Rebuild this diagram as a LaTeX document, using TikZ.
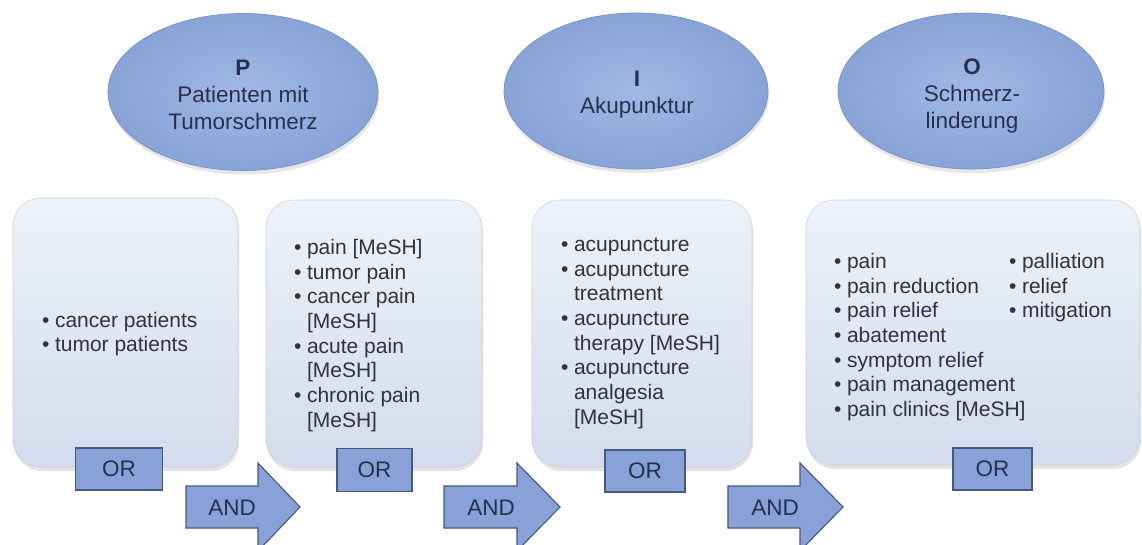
\documentclass[tikz,border=0pt]{standalone}
\usepackage{fontspec}
\setmainfont{Liberation Sans}
\usetikzlibrary{shapes.geometric,shadows}
\definecolor{ellin}{RGB}{162,184,229}
\definecolor{ellout}{RGB}{136,163,214}
\definecolor{elledge}{RGB}{120,145,198}
\definecolor{boxtop}{RGB}{238,242,249}
\definecolor{boxbot}{RGB}{211,220,236}
\definecolor{boxedge}{RGB}{200,208,222}
\definecolor{opfill}{RGB}{136,161,214}
\definecolor{opedge}{RGB}{70,88,128}
\definecolor{txtgray}{RGB}{50,50,62}
\definecolor{txtnavy}{RGB}{38,48,78}
\begin{document}
\begin{tikzpicture}[x=1pt,y=-1pt,
  pbox/.style={rectangle, rounded corners=28pt, top color=boxtop, bottom color=boxbot,
    draw=boxedge, line width=0.6pt, inner sep=0pt,
    drop shadow={opacity=0.22, shadow xshift=1pt, shadow yshift=-4pt}},
  ell/.style={ellipse, inner color=ellin, outer color=ellout, draw=elledge,
    line width=0.7pt, inner sep=0pt,
    drop shadow={opacity=0.2, shadow xshift=1pt, shadow yshift=-4pt}},
  elltext/.style={align=center, text=txtnavy, inner sep=0pt,
    font=\fontsize{22.5}{27}\selectfont},
  listtext/.style={anchor=west, inner sep=0pt, text=txtgray,
    font=\fontsize{21}{24.7}\selectfont},
  opbox/.style={rectangle, fill=opfill, draw=opedge, line width=1.1pt, inner sep=0pt,
    text=txtnavy, font=\fontsize{22.5}{27}\selectfont},
  andarrow/.style={fill=opfill, draw=opedge, line width=1.1pt},
  optext/.style={inner sep=0pt, text=txtnavy, font=\fontsize{22.5}{27}\selectfont}
]
\useasboundingbox (0,0) rectangle (1142,544);
\clip (0,0) rectangle (1142,544);

% ellipses
\node[ell, minimum width=270pt, minimum height=157pt] (P) at (243,92) {};
\node[ell, minimum width=264pt, minimum height=156pt] (I) at (636,91) {};
\node[ell, minimum width=266pt, minimum height=156pt] (O) at (971,91) {};
\node[elltext] (Pt) at (243,95) {\textbf{P}\\Patienten mit\\Tumorschmerz};
\node[elltext] (It) at (637,95) {\textbf{I}\\Akupunktur};
\node[elltext] (Ot) at (972,96) {\textbf{O}\\Schmerz-\\linderung};

% boxes
\node[pbox, minimum width=225pt, minimum height=269pt] (b1) at (125.5,332.5) {};
\node[pbox, minimum width=216pt, minimum height=267pt] (b2) at (374,333.5) {};
\node[pbox, minimum width=220pt, minimum height=267pt] (b3) at (642,333.5) {};
\node[pbox, minimum width=334pt, minimum height=265pt] (b4) at (973,332.5) {};

% lists
\node[listtext] (l1) at (42,334.5) {\begin{tabular}{@{}l@{\hspace{5.5pt}}l@{}}
\textbullet & cancer patients\\
\textbullet & tumor patients
\end{tabular}};
\node[listtext] (l2) at (294,336) {\begin{tabular}{@{}l@{\hspace{5.5pt}}l@{}}
\textbullet & pain [MeSH]\\
\textbullet & tumor pain\\
\textbullet & cancer pain\\
 & [MeSH]\\
\textbullet & acute pain\\
 & [MeSH]\\
\textbullet & chronic pain\\
 & [MeSH]
\end{tabular}};
\node[listtext] (l3) at (561,333) {\begin{tabular}{@{}l@{\hspace{5.5pt}}l@{}}
\textbullet & acupuncture\\
\textbullet & acupuncture\\
 & treatment\\
\textbullet & acupuncture\\
 & therapy [MeSH]\\
\textbullet & acupuncture\\
 & analgesia\\
 & [MeSH]
\end{tabular}};
\node[listtext] (l4) at (834,337.5) {\begin{tabular}{@{}l@{\hspace{5.5pt}}l@{}}
\textbullet & pain\\
\textbullet & pain reduction\\
\textbullet & pain relief\\
\textbullet & abatement\\
\textbullet & symptom relief\\
\textbullet & pain management\\
\textbullet & pain clinics [MeSH]
\end{tabular}};
\coordinate (x42) at (1009,0);
\node[listtext, anchor=north west] (l42) at (l4.north -| x42) {\begin{tabular}{@{}l@{\hspace{5.5pt}}l@{}}
\textbullet & palliation\\
\textbullet & relief\\
\textbullet & mitigation
\end{tabular}};

% OR boxes
\node[opbox, minimum width=87pt, minimum height=42pt] (or1) at (119,469) {OR};
\node[opbox, minimum width=75pt, minimum height=43pt] (or2) at (374.5,470) {OR};
\node[opbox, minimum width=80pt, minimum height=42pt] (or3) at (645,471) {OR};
\node[opbox, minimum width=79pt, minimum height=42pt] (or4) at (992.5,469) {OR};

% AND arrows
\draw[andarrow] (186,486) -- (258,486) -- (258,463) -- (300,507) -- (258,551) -- (258,528) -- (186,528) -- cycle;
\node[optext] (and1) at (232,508) {AND};
\draw[andarrow] (444,486) -- (517,486) -- (517,463) -- (560,507) -- (517,551) -- (517,528) -- (444,528) -- cycle;
\node[optext] (and2) at (491,508) {AND};
\draw[andarrow] (728,486) -- (800,486) -- (800,463) -- (843,507) -- (800,551) -- (800,528) -- (728,528) -- cycle;
\node[optext] (and3) at (775,508) {AND};
\end{tikzpicture}
\end{document}
